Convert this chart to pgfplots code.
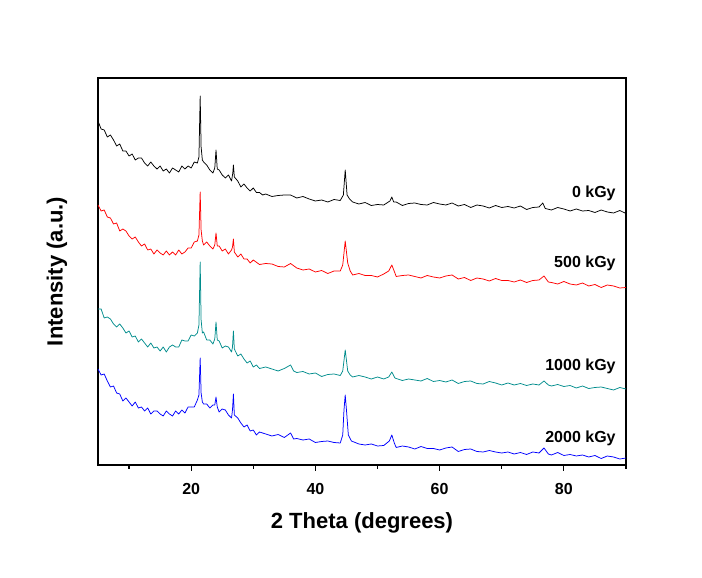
\documentclass[border=0pt]{standalone}
\usepackage{fontspec}
\setmainfont{Liberation Sans}
\usepackage{pgfplots}
\pgfplotsset{compat=1.18}
\definecolor{tealc}{RGB}{0,140,140}
\begin{document}
\begin{tikzpicture}
\begin{axis}[
 scale only axis, width=528pt, height=387pt,
 xmin=5, xmax=90, ymin=0, ymax=387,
 axis line style={line width=1.6pt},
 xtick={20,40,60,80}, minor xtick={10,30,50,70,90},
 xtick pos=bottom, ytick=\empty,
 tick align=outside,
 major tick length=6pt, minor tick length=4pt,
 every tick/.style={black, line width=1.2pt},
 tick label style={font=\fontsize{16}{18}\selectfont\bfseries},
 xticklabel style={yshift=-9pt},
 /pgf/number format/assume math mode=true,
 xlabel={2 Theta (degrees)}, ylabel={Intensity (a.u.)},
 label style={font=\fontsize{22}{26}\selectfont\bfseries},
 xlabel style={at={(axis description cs:0.5,-0.15)}, anchor=center},
 ylabel style={at={(axis description cs:-0.078,0.5)}, anchor=center},
 every axis plot/.append style={no marks, line width=0.75pt, line join=round},
 clip=true,
]
\coordinate (LL) at (rel axis cs:0,0);
% 0 kGy
\addplot[black] coordinates {
(5,344)(5.5,336)(6,335)(6.5,328)(7,330)(7.5,325)(8,319)(8.5,321)(9,314)(9.5,314)
(10,309)(10.5,311)(11,305)(11.5,307)(12,307)(12.5,302)(13,299)(13.5,303)(14,299)(14.5,296)
(15,299)(15.5,294)(16,296)(16.5,292)(17,297)(17.5,295)(18,293)(18.5,299)(19,296)(19.5,299)
(20,297)(20.5,303)(21,302)(21.25,308)(21.45,369)(21.6,318)(21.8,305)(22,303)(22.5,300)(23,295)
(23.5,292)(23.8,297)(24.0,315)(24.2,296)(24.5,295)(25,290)(25.5,287)(26,290)(26.5,284)(26.7,292)
(26.8,300)(26.95,288)(27.5,284)(28,278)(28.5,281)(29,277)(29.5,274)(30,277)(30.5,272.5)(31,272.5)
(31.5,270)(32,271)(33,268.5)(34,269.5)(35,270)(36,270)(37,267)(38,268.5)(39,266)(40,264)
(41,265)(42,263)(43,265.5)(44,264.5)(44.5,270)(44.8,295)(45.1,270)(45.5,266)(46,263)(47,261)
(48,262.5)(49,259.5)(50,260.5)(51,260)(52,264)(52.3,268)(52.6,263)(53,263)(54,259.5)(55,261.5)
(56,262)(57,260.5)(58,260)(59,262.5)(60,261)(61,260)(62,262)(63,259)(64,260.5)(65,257.5)
(66,260)(67,259)(68,257)(69,259.5)(70,257.5)(71,258.5)(72,257)(73,259)(74,255.5)(75,257.5)
(76,258)(76.6,262)(77,256.5)(78,255)(79,257.5)(80,256)(81,254)(82,256)(83,254)(84,254.5)
(85,252.5)(86,255)(87,253)(88,252)(89,254.5)(90,251.5)};
% 500 kGy
\addplot[red] coordinates {
(5,260)(5.5,254)(6,255)(6.5,248)(7,247)(7.5,241)(8,242)(8.5,234)(9,236)(9.5,234)
(10,229)(10.5,226)(11,228)(11.5,223)(12,219)(12.5,221)(13,215)(13.5,216)(14,211)(14.5,215)
(15,212)(15.5,210)(16,214)(16.5,210)(17,213)(17.5,210)(18,215)(18.5,211)(19,213)(19.5,217)
(20,217)(20.5,223)(21,224)(21.25,230)(21.45,273)(21.6,235)(21.8,224)(22,220)(22.5,223)(23,219)
(23.5,216)(23.8,220)(24.0,232)(24.2,219)(24.5,219)(25,214)(25.5,216)(26,211)(26.5,215)(26.65,218)
(26.8,226)(26.95,213)(27.5,208)(28,211)(28.5,206)(29,206)(29.5,202)(30,205)(31,200.5)(32,201.5)
(33,201)(34,198.5)(35,198)(36,201.5)(37,197)(38,195)(39,196)(40,193)(41,194.5)(42,191.5)
(43,194)(44,194)(44.4,200)(44.8,224)(45.2,202)(45.6,194)(46,190)(47,191.5)(48,189.5)(49,189.5)
(50,188)(51,191)(51.8,194)(52.3,200)(52.8,192)(53,188.5)(54,189.5)(55,190)(56,188.5)(57,187)
(58,189.5)(59,188)(60,187)(61,189)(62,190)(63,186)(64,187.5)(65,184.5)(66,187)(67,186)
(68,184)(69,186.5)(70,184.5)(71,184.5)(72,183)(73,185)(74,182.5)(75,184.5)(76,185)(76.8,189)
(77.5,183)(78,182.5)(79,181)(80,183.5)(81,181)(82,180)(83,182)(84,179)(85,180.5)(86,177.5)
(87,180)(88,179)(89,177)(90,177.5)};
% 1000 kGy
\addplot[tealc] coordinates {
(5,156)(5.5,156)(6,147)(6.5,148)(7,146)(7.5,141)(8,138)(8.5,141)(9,137)(9.5,132)
(10,134)(10.5,128)(11,129)(11.5,123)(12,126)(12.5,122)(13,118)(13.5,122)(14,117)(14.5,118)
(15,114)(15.5,118)(16,113)(16.5,118)(17,120)(17.5,118)(18,118)(18.5,125)(19,124)(19.5,124)
(20,130)(20.5,129)(21,132)(21.25,140)(21.45,203)(21.6,145)(21.8,132)(22,133)(22.5,125)(23,125)
(23.5,121)(23.8,126)(24.0,143)(24.2,125)(24.5,124)(25,117)(25.5,119)(26,118)(26.5,113)(26.65,118)
(26.8,134)(26.95,116)(27.5,109)(28,111)(28.5,106)(29,102)(29.5,104)(30,98)(30.5,100)(31,96.5)
(32,98)(33,96)(34,94)(35,96.5)(36,100)(36.5,94)(37,92.5)(38,93.5)(39,91)(40,92)
(41,88.5)(42,90.5)(43,91)(44,89.5)(44.4,94)(44.8,115)(45.2,94)(45.6,90)(46,88)(47,89.5)
(48,88)(49,86)(50,88)(51,86)(51.8,88)(52.3,93)(52.8,87)(53,86.5)(54,84.5)(55,86)
(56,85)(57,84)(58,86.5)(59,83.5)(60,84.5)(61,83)(62,85)(63,81.5)(64,83.5)(65,84)
(66,81.5)(67,81)(68,83.5)(69,82)(70,80)(71,82)(72,80)(73,81.5)(74,79.5)(75,81)
(76,80)(76.8,84)(77.5,80)(78,79)(79,80.5)(80,78.5)(81,79.5)(82,77)(83,79)(84,76.5)
(85,77.5)(86,78)(87,76.5)(88,75)(89,77.5)(90,76)};
% 2000 kGy
\addplot[blue] coordinates {
(5,96)(5.5,90)(6,91)(6.5,84)(7,78)(7.5,79)(8,72)(8.5,71)(9,64)(9.5,67)
(10,63)(10.5,59)(11,63)(11.5,57)(12,58)(12.5,54)(13,57)(13.5,51)(14,54)(14.5,54)
(15,51)(15.5,49)(16,54)(16.5,51)(17,49)(17.5,54)(18,51)(18.5,55)(19,52)(19.5,58)
(20,58)(20.5,58)(21,65)(21.25,70)(21.45,107)(21.6,72)(21.8,63)(22,61)(22.5,61)(23,57)
(23.5,60)(23.8,60)(24.0,68)(24.2,58)(24.5,53)(25,56)(25.5,55)(26,50)(26.5,47)(26.65,55)
(26.8,71)(26.95,50)(27.5,47)(28,42)(28.5,38)(29,40)(29.5,34)(30,35)(30.5,30)(31,33)
(32,31)(33,29)(34,30.5)(35,27.5)(36,32)(36.5,26)(37,26.5)(38,25)(39,26)(40,22.5)
(41,23.5)(42,24)(43,22.5)(44,22)(44.4,30)(44.6,55)(44.8,70)(45.0,55)(45.3,30)(45.8,24)
(46,23.5)(47,21)(48,20)(49,21)(50,19)(51,19.5)(51.9,24)(52.3,30)(52.7,22)(53,17.5)
(54,19)(55,18)(56,16)(57,18.5)(58,16.5)(59,16.5)(60,15)(61,17)(62,18)(63,13.5)
(64,15.5)(65,16)(66,13.5)(67,13)(68,14.5)(69,13)(70,12)(71,13)(72,11)(73,12.5)
(74,10.5)(75,13)(76,12)(76.8,17)(77.5,11)(78,10)(79,12.5)(80,9.5)(81,10.5)(82,9)
(83,10)(84,8)(85,9.5)(86,6.5)(87,9)(88,8)(89,6)(90,7)};
\node[anchor=east, font=\fontsize{16}{18}\selectfont\bfseries] at (axis cs:88.9,272) {0 kGy};
\node[anchor=east, font=\fontsize{16}{18}\selectfont\bfseries] at (axis cs:88.9,202) {500 kGy};
\node[anchor=east, font=\fontsize{16}{18}\selectfont\bfseries] at (axis cs:88.9,99) {1000 kGy};
\node[anchor=east, font=\fontsize{16}{18}\selectfont\bfseries] at (axis cs:88.9,27) {2000 kGy};
\end{axis}
\pgfresetboundingbox
\path (LL) ++(-98pt,-113pt) rectangle ++(702pt,578pt);
\end{tikzpicture}
\end{document}
